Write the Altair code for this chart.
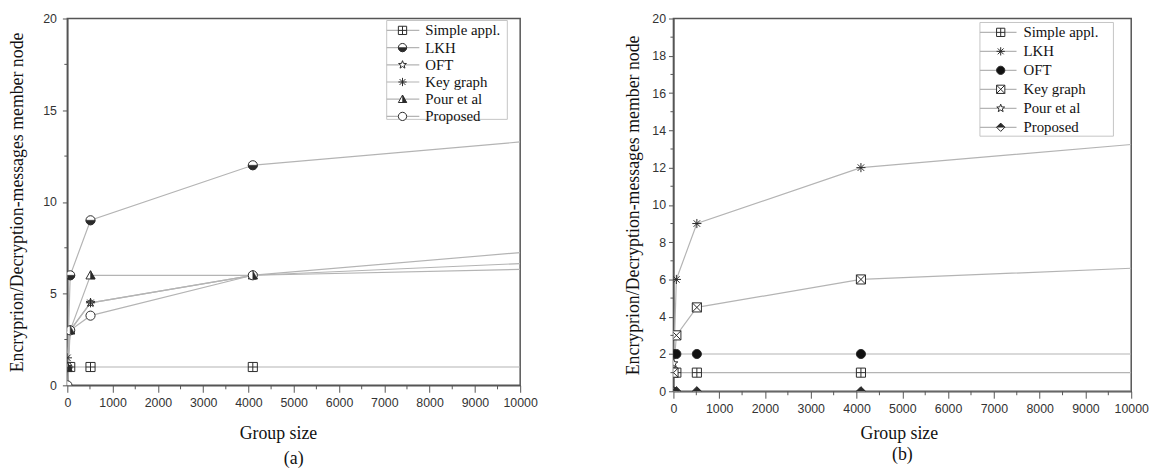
import math
import altair as alt
import pandas as pd

# ---------------- data ----------------
series = ["Simple appl.", "LKH", "OFT", "Key graph", "Pour et al", "Proposed"]
group_sizes = [2, 64, 512, 4096, 10000]

# panel (a)
a_simple = [1, 1, 1, 1, 1]
a_lkh = [1, 6, 9, 12, 13.27]
a_oft = [1, 3, 4.5, 6, 6.32]
a_key = [1.5, 3, 4.5, 6, 6.64]
a_pour = [1, 3, 6, 6, None]
a_prop = [0, 3, 3.8, 6, 7.24]

# panel (b)
b_simple = [1, 1, 1, 1, 1]
b_lkh = [1, 6, 9, 12, 13.24]
b_oft = [2, 2, 2, 2, 2]
b_key = [1, 3, 4.5, 6, 6.6]
b_pour = [1.5, None, None, None, None]
b_prop = [0, 0, 0, 0, 0]

x_ticks = list(range(0, 10001, 1000))
x_minor = list(range(500, 10000, 1000))
a_y_ticks = [0, 5, 10, 15, 20]
a_y_minor = [2.5, 7.5, 12.5, 17.5]
b_y_ticks = list(range(0, 21, 2))
b_y_minor = list(range(1, 20, 2))

Y_TITLE = "Encryprion/Decryption-messages member node"
X_TITLE = "Group size"

# ---------------- styles ----------------
SERIF = "Liberation Serif"
SANS = "Liberation Sans"
LINE = "#b4b4b4"
DARK = "#2a2a2a"
AXIS = "#555555"


def star_path(n=5, r1=1.0, r2=0.42):
    pts = []
    for i in range(2 * n):
        r = r1 if i % 2 == 0 else r2
        ang = -math.pi / 2 + i * math.pi / n
        pts.append(f"{r * math.cos(ang):.3f},{r * math.sin(ang):.3f}")
    return "M" + "L".join(pts) + "Z"


CIRCLE = "M1,0A1,1 0 1,1 -1,0A1,1 0 1,1 1,0Z"
HALF_CIRCLE_BOTTOM = "M-1,0A1,1 0 0,0 1,0Z"
BOX_PLUS = "M-1,-1L1,-1L1,1L-1,1Z M0,-1L0,1 M-1,0L1,0"
BOX_X = "M-1,-1L1,-1L1,1L-1,1Z M-1,-1L1,1 M1,-1L-1,1"
ASTER = "M0,-1L0,1M-1,0L1,0M-0.71,-0.71L0.71,0.71M-0.71,0.71L0.71,-0.71"
STAR = star_path()
TRI = "M0,-1L1,0.8L-1,0.8Z"
TRI_RIGHT = "M0,-1L1,0.8L0,0.8Z"
DIAMOND = "M0,-1L1,0L0,1L-1,0Z"
DIAMOND_TOP = "M-1,0L0,-1L1,0Z"

a_shapes = [BOX_PLUS, CIRCLE, STAR, ASTER, TRI, CIRCLE]
a_fills = ["white", "white", "white", "white", "white", "white"]
a_half = {"LKH": HALF_CIRCLE_BOTTOM, "Pour et al": TRI_RIGHT}

b_shapes = [BOX_PLUS, ASTER, CIRCLE, BOX_X, STAR, DIAMOND]
b_fills = ["white", "white", "#111111", "white", "white", "white"]
b_half = {"Proposed": DIAMOND_TOP}


def long_df(cols):
    rows = []
    for name, ys in zip(series, cols):
        for x, y in zip(group_sizes, ys):
            if y is not None:
                rows.append({"series": name, "x": x, "y": y})
    return pd.DataFrame(rows)


def panel(df, shapes, fills, half, W, H, y_ticks, y_minor, leg, label, title_x,
          y_label_pad, y_title_pad, x_title_pad, label_offset):
    xs = alt.Scale(domain=[0, 10000], nice=False, zero=False)
    ys = alt.Scale(domain=[0, 20], nice=False, zero=False)
    shape_sc = alt.Scale(domain=series, range=shapes)
    fill_sc = alt.Scale(domain=series, range=fills)
    half_names = list(half.keys())
    half_sc = alt.Scale(domain=half_names, range=[half[k] for k in half_names])

    base = alt.Chart(df)
    lines = base.mark_line(color=LINE, strokeWidth=1.2, clip=True).encode(
        x=alt.X("x:Q", scale=xs, title=X_TITLE,
                axis=alt.Axis(orient="bottom", values=x_ticks, format="d",
                              labelOverlap=False, labelFlush=False,
                              tickSize=7, labelPadding=4, titlePadding=x_title_pad,
                              titleX=title_x)),
        y=alt.Y("y:Q", scale=ys, title=Y_TITLE,
                axis=alt.Axis(orient="left", values=y_ticks, tickSize=5,
                              labelOverlap=False, labelFlush=False,
                              labelPadding=y_label_pad, titlePadding=y_title_pad)),
        detail="series:N",
    )
    pts = base.transform_filter("datum.x < 10000").mark_point(
        filled=True, stroke=DARK, strokeWidth=1, opacity=1, size=85, clip=True
    ).encode(
        x=alt.X("x:Q", scale=xs, axis=None),
        y=alt.Y("y:Q", scale=ys, axis=None),
        shape=alt.Shape("series:N", scale=shape_sc, legend=None),
        fill=alt.Fill("series:N", scale=fill_sc, legend=None),
    )
    halfs = base.transform_filter(
        alt.FieldOneOfPredicate(field="series", oneOf=half_names)
    ).transform_filter("datum.x < 10000").mark_point(
        filled=True, fill=DARK, stroke=DARK, strokeWidth=0.5, opacity=1, size=85, clip=True
    ).encode(
        x=alt.X("x:Q", scale=xs, axis=None),
        y=alt.Y("y:Q", scale=ys, axis=None),
        shape=alt.Shape("series:N", scale=half_sc, legend=None),
    )
    xminor = alt.Chart(pd.DataFrame({"v": x_minor})).mark_rule(
        color=AXIS, strokeWidth=1
    ).encode(x=alt.X("v:Q", scale=xs, axis=None), y=alt.value(H), y2=alt.value(H + 4))
    yminor = alt.Chart(pd.DataFrame({"v": y_minor})).mark_rule(
        color=AXIS, strokeWidth=1
    ).encode(y=alt.Y("v:Q", scale=ys, axis=None), x=alt.value(0), x2=alt.value(-3))

    # legend
    ldf = pd.DataFrame({"series": series})
    ly = alt.Scale(type="point", domain=series, range=[leg["r0"], leg["r1"]], padding=0)
    box = alt.Chart(pd.DataFrame({"k": [0]})).mark_rect(
        fill="white", stroke="#c4c4c4", strokeWidth=1
    ).encode(x=alt.value(leg["bx1"]), x2=alt.value(leg["bx2"]),
             y=alt.value(leg["by1"]), y2=alt.value(leg["by2"]))
    lrule = alt.Chart(ldf).mark_rule(color=LINE, strokeWidth=1.2).encode(
        x=alt.value(leg["bx1"]), x2=alt.value(leg["lx2"]),
        y=alt.Y("series:N", scale=ly, axis=None))
    lpts = alt.Chart(ldf).mark_point(
        filled=True, stroke=DARK, strokeWidth=1, opacity=1, size=70
    ).encode(
        x=alt.value(leg["mx"]), y=alt.Y("series:N", scale=ly, axis=None),
        shape=alt.Shape("series:N", scale=shape_sc, legend=None),
        fill=alt.Fill("series:N", scale=fill_sc, legend=None),
    )
    lhalf = alt.Chart(ldf).transform_filter(
        alt.FieldOneOfPredicate(field="series", oneOf=half_names)
    ).mark_point(filled=True, fill=DARK, stroke=DARK, strokeWidth=0.5, opacity=1, size=70).encode(
        x=alt.value(leg["mx"]), y=alt.Y("series:N", scale=ly, axis=None),
        shape=alt.Shape("series:N", scale=half_sc, legend=None),
    )
    ltext = alt.Chart(ldf).mark_text(
        align="left", baseline="middle", font=SERIF, fontSize=15, color="#111111"
    ).encode(x=alt.value(leg["tx"]), y=alt.Y("series:N", scale=ly, axis=None),
             text="series:N")

    return alt.layer(
        lines, pts, halfs, xminor, yminor, box, lrule, lpts, lhalf, ltext
    ).resolve_scale(
        x="independent", y="independent", shape="independent", fill="independent"
    ).properties(
        width=W, height=H,
        title=alt.TitleParams(label, orient="bottom", font=SERIF, fontSize=18,
                              fontWeight="normal", color="#111111",
                              offset=label_offset),
    )


df_a = long_df([a_simple, a_lkh, a_oft, a_key, a_pour, a_prop])
df_b = long_df([b_simple, b_lkh, b_oft, b_key, b_pour, b_prop])

leg_a = dict(bx1=323, bx2=445, by1=2, by2=102, lx2=356, mx=339, tx=362, r0=12, r1=99)
leg_b = dict(bx1=310, bx2=445, by1=4, by2=119, lx2=347, mx=331, tx=354, r0=14, r1=110)

left = panel(df_a, a_shapes, a_fills, a_half, 458, 371, a_y_ticks, a_y_minor,
             leg_a, "(a)", 213, 6, 16, 16, 8)
right = panel(df_b, b_shapes, b_fills, b_half, 463, 377, b_y_ticks, b_y_minor,
              leg_b, "(b)", 228, 3, 9, 10, 4)

chart = alt.hconcat(left, right, spacing=86).properties(
    padding={"left": 0, "top": 1, "right": 0, "bottom": 0}
).configure_view(
    stroke=AXIS, strokeWidth=1.5
).configure_axis(
    grid=False, domainColor=AXIS, domainWidth=1.5, tickColor=AXIS, tickWidth=1,
    labelColor="#333333", labelFont=SANS, labelFontSize=12.5,
    titleFont=SERIF, titleFontSize=18, titleFontWeight="normal", titleColor="#111111",
)

chart.save("out.html", embed_options={"renderer": "svg", "actions": False})
